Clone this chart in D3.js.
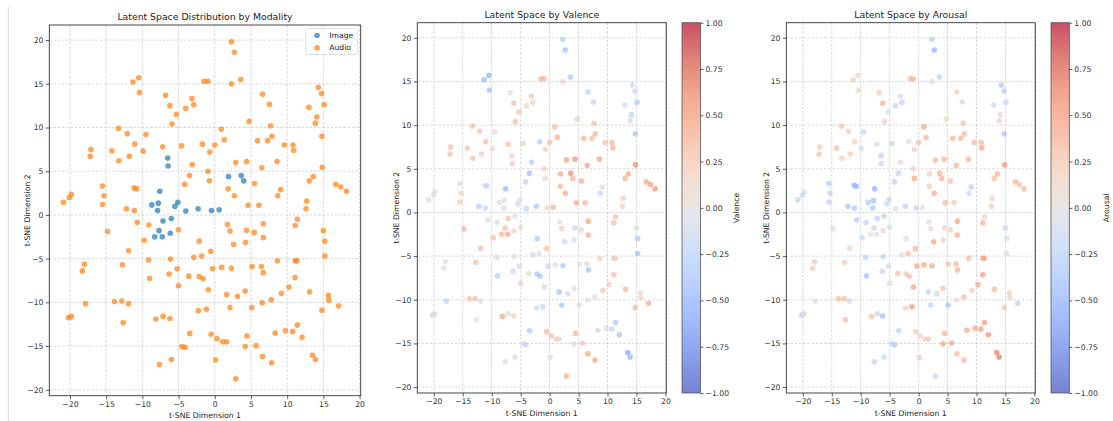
<!DOCTYPE html>
<html>
<head>
<meta charset="utf-8">
<script src="https://cdn.jsdelivr.net/npm/d3@7"></script>
<style>
  body { margin: 0; background: #fff; }
  text { font-family: "DejaVu Sans", sans-serif; }
</style>
</head>
<body>
<svg id="chart" width="1113" height="421"></svg>
<script>
// t-SNE coordinates of each sample
const tsneX = [
  2.3, 2.7, -11.3, -10.5, -10.4, -1.5, -0.95, 2.3, 3.6, -6.8,
  -6.2, -5.3, -5.9, -4.0, -3.15, -2.9, 0.9, 4.75, 6.6, 7.55,
  7.7, 7.9, 7.3, 1.3, 5.9, 13.0, 14.3, 14.75, 15.1, 14.1,
  13.9, 14.8, -13.3, -12.1, -9.5, 9.6, 10.8, 10.9, -17.2, -17.1,
  -14.2, -13.25, -11.8, -11.05, -9.9, -7.2, -4.6, -1.7, 0.0, -0.7,
  -3.1, 2.9, 4.4, 6.5, 8.6, 14.85, -6.5, -6.45, -0.95, -0.75,
  -3.5, -4.15, 1.9, 3.65, 4.0, 1.85, 2.7, 5.5, 9.1, 8.7,
  13.6, 13.05, 16.7, 17.4, 18.2, 12.7, 12.6, 11.4, 11.1, 15.0,
  15.2, 15.2, -20.9, -20.1, -19.8, -15.5, -15.3, -15.5, -14.8, -11.15,
  -10.8, -12.2, -11.1, -10.7, -7.6, -8.7, -7.8, -7.9, -5.5, -5.1,
  -4.0, -2.3, -0.45, 0.6, -7.15, -6.0, -7.7, -8.3, -7.25, -6.15,
  -5.0, -9.1, -9.75, -11.9, -12.75, -18.0, -18.3, -9.15, -6.1, -2.9,
  -1.8, -0.55, -2.15, 1.75, 2.1, 2.6, 4.4, 4.25, 5.45, 6.7,
  6.7, 4.6, 6.1, 8.65, 11.1, 11.35, 6.45, 5.15, 6.7, 2.3,
  0.95, -0.3, -5.2, -6.3, -9.0, -3.6, -2.15, -1.6, 11.1, -5.0,
  -0.9, 1.65, 3.15, 4.2, 10.25, 9.2, 13.1, 15.7, 15.75, 17.1,
  14.8, 7.8, 6.55, 5.1, 2.1, -1.15, -2.25, -17.85, -13.85, -12.85,
  -11.9, -20.2, -19.8, -12.65, -8.15, -7.15, -6.2, -3.45, -0.5, 0.3,
  1.1, 1.65, 4.45, 4.2, 5.7, 8.35, 9.75, 10.75, 11.4, 12.05,
  13.5, 13.9, 7.85, 6.6, 2.9, 0.1, -4.55, -4.1, -6.0, -7.65
];
const tsneY = [
  19.8, 18.6, 15.2, 15.7, 14.0, 15.3, 15.3, 15.0, 15.5, 13.7,
  12.5, 11.5, 10.4, 12.2, 13.3, 12.6, 9.8, 10.7, 13.8, 12.65,
  10.2, 9.0, 8.5, 8.6, 8.5, 12.3, 14.6, 13.9, 12.6, 11.2,
  10.5, 9.0, 9.9, 9.3, 9.2, 8.0, 8.0, 7.4, 6.7, 7.5,
  7.35, 6.2, 6.7, 8.1, 7.3, 7.8, 7.9, 8.1, 8.0, 7.2,
  5.75, 6.0, 6.1, 5.4, 6.1, 5.45, 6.5, 5.6, 5.0, 3.9,
  4.5, 3.5, 4.4, 4.5, 3.9, 3.0, 2.2, 3.6, 2.9, 2.2,
  4.4, 3.9, 3.5, 3.2, 2.7, 1.6, 0.7, -0.5, -1.2, -1.8,
  -3.0, -4.7, 1.45, 2.0, 2.35, 3.3, 2.2, 1.2, -1.9, 3.1,
  3.0, 0.7, 0.5, -0.85, 2.7, 1.15, 1.35, 0.5, 1.0, 1.45,
  0.45, 0.7, 0.5, 0.6, -0.7, -0.4, -1.8, -2.5, -2.5, -2.1,
  -1.7, -1.15, -2.9, -4.1, -5.7, -5.65, -6.4, -5.15, -5.05, -4.85,
  -4.7, -4.15, -3.0, -1.1, -1.85, -3.35, -1.75, -3.15, -2.0, -1.0,
  -2.6, 1.1, 1.1, -5.25, -5.25, -5.25, -5.9, -5.9, -6.6, -6.1,
  -6.0, -6.15, -6.15, -6.75, -7.25, -7.0, -7.05, -7.3, -7.15, -8.1,
  -8.55, -9.1, -9.3, -8.7, -8.25, -8.95, -8.8, -9.2, -9.75, -10.4,
  -10.9, -9.7, -10.05, -10.6, -10.6, -10.8, -10.95, -10.15, -9.9, -9.85,
  -10.15, -11.75, -11.6, -12.3, -11.9, -11.6, -11.85, -13.55, -13.65, -14.15,
  -14.5, -14.5, -13.85, -15.05, -14.95, -13.5, -13.25, -13.35, -12.6, -14.0,
  -16.05, -16.55, -16.9, -16.2, -18.75, -16.6, -15.05, -15.15, -16.55, -17.1
];

// 0 = Image, 1 = Audio
const modalityNames = ['Image', 'Audio'];
const modality = [
  1, 1, 1, 1, 1, 1, 1, 1, 1, 1,
  1, 1, 1, 1, 1, 1, 1, 1, 1, 1,
  1, 1, 1, 1, 1, 1, 1, 1, 1, 1,
  1, 1, 1, 1, 1, 1, 1, 1, 1, 1,
  1, 1, 1, 1, 1, 1, 1, 1, 1, 1,
  1, 1, 1, 1, 1, 1, 0, 0, 1, 1,
  1, 1, 0, 0, 0, 1, 1, 1, 1, 1,
  1, 1, 1, 1, 1, 1, 1, 1, 1, 1,
  1, 1, 1, 1, 1, 1, 1, 1, 1, 1,
  1, 1, 1, 1, 0, 0, 0, 0, 0, 0,
  0, 0, 0, 0, 0, 0, 0, 0, 0, 0,
  1, 1, 1, 1, 1, 1, 1, 1, 1, 1,
  1, 1, 1, 1, 1, 1, 1, 1, 1, 1,
  1, 1, 1, 1, 1, 1, 1, 1, 1, 1,
  1, 1, 1, 1, 1, 1, 1, 1, 1, 1,
  1, 1, 1, 1, 1, 1, 1, 1, 1, 1,
  1, 1, 1, 1, 1, 1, 1, 1, 1, 1,
  1, 1, 1, 1, 1, 1, 1, 1, 1, 1,
  1, 1, 1, 1, 1, 1, 1, 1, 1, 1,
  1, 1, 1, 1, 1, 1, 1, 1, 1, 1
];

const valence = [
  -0.3, -0.4, -0.45, -0.5, -0.4, 0.35, 0.35, 0.1, -0.3, 0.0,
  0.3, 0.25, 0.3, 0.1, 0.25, 0.15, 0.3, 0.15, -0.25, -0.25,
  0.3, 0.35, 0.3, 0.4, 0.35, -0.1, -0.15, -0.2, -0.3, -0.25,
  -0.1, -0.35, 0.3, 0.3, 0.0, 0.3, 0.35, 0.4, 0.3, 0.3,
  0.25, 0.3, 0.15, 0.3, 0.1, 0.3, 0.15, -0.3, 0.3, 0.2,
  -0.3, 0.5, 0.55, 0.45, 0.45, 0.6, 0.2, 0.25, 0.15, 0.1,
  -0.4, -0.25, 0.45, 0.55, 0.35, 0.35, 0.45, 0.4, -0.05, -0.2,
  0.4, 0.35, 0.45, 0.5, 0.55, 0.2, 0.2, 0.25, 0.3, -0.05,
  -0.3, -0.4, 0.0, -0.05, 0.0, -0.05, 0.15, 0.2, 0.35, -0.1,
  -0.2, -0.3, -0.2, 0.0, -0.45, 0.05, 0.0, -0.05, -0.1, 0.05,
  -0.25, -0.35, 0.1, 0.35, 0.3, 0.0, 0.3, 0.35, 0.45, 0.15,
  0.1, 0.0, 0.3, 0.3, 0.3, -0.05, 0.0, 0.0, 0.0, -0.15,
  -0.05, 0.3, -0.35, 0.0, 0.2, -0.15, -0.2, -0.05, 0.1, 0.45,
  0.35, 0.45, 0.35, 0.2, 0.2, 0.15, 0.0, 0.0, -0.4, -0.35,
  0.0, -0.2, -0.05, -0.2, -0.3, 0.05, -0.4, -0.35, 0.3, 0.15,
  -0.1, -0.4, -0.1, 0.0, 0.2, 0.25, 0.35, 0.1, 0.1, 0.4,
  0.35, 0.05, 0.0, -0.05, -0.35, -0.2, -0.15, -0.25, 0.25, 0.3,
  0.0, -0.2, 0.1, 0.0, 0.45, 0.05, 0.15, -0.35, 0.35, 0.3,
  0.15, 0.15, 0.35, 0.05, 0.25, -0.1, 0.0, -0.25, -0.35, -0.4,
  -0.55, -0.5, 0.45, 0.45, 0.4, 0.0, 0.1, -0.25, 0.1, 0.0
];

const arousal = [
  -0.3, -0.5, 0.2, 0.1, 0.15, 0.25, 0.4, 0.0, -0.25, 0.2,
  0.4, 0.0, 0.2, -0.2, 0.0, -0.25, 0.45, 0.15, 0.2, -0.15,
  0.3, 0.35, 0.35, 0.35, 0.35, -0.15, -0.35, -0.3, -0.2, -0.05,
  0.15, -0.35, 0.3, 0.2, -0.2, 0.3, 0.35, 0.45, 0.25, 0.2,
  0.3, 0.2, 0.2, 0.2, -0.1, -0.05, -0.2, 0.0, 0.3, 0.15,
  0.1, 0.35, 0.35, 0.35, 0.35, 0.55, -0.25, -0.2, 0.15, 0.45,
  -0.2, -0.25, 0.2, 0.35, 0.35, 0.2, 0.45, 0.3, -0.25, -0.2,
  0.4, 0.3, 0.35, 0.3, 0.35, 0.2, 0.2, 0.1, 0.35, -0.15,
  -0.05, -0.05, -0.25, -0.15, -0.1, -0.3, -0.25, -0.25, 0.05, -0.45,
  -0.5, -0.4, -0.35, -0.3, -0.5, -0.3, -0.4, -0.35, -0.2, -0.2,
  0.0, -0.25, -0.25, 0.05, -0.25, -0.25, -0.15, 0.05, 0.05, 0.1,
  -0.1, -0.25, -0.2, 0.15, 0.15, 0.25, 0.2, -0.25, -0.25, 0.05,
  0.3, 0.35, 0.0, 0.05, 0.1, 0.45, 0.1, 0.2, 0.2, 0.45,
  0.35, 0.35, 0.2, 0.3, 0.45, 0.45, 0.35, 0.3, 0.4, 0.45,
  0.45, 0.45, -0.1, -0.2, -0.4, 0.3, 0.25, 0.3, 0.5, 0.0,
  0.45, -0.2, -0.15, 0.25, 0.45, 0.2, 0.35, 0.15, 0.15, -0.25,
  0.25, 0.3, 0.05, -0.4, -0.25, 0.5, 0.2, 0.1, 0.3, 0.3,
  -0.1, -0.25, 0.15, 0.3, 0.3, -0.25, -0.4, -0.25, 0.2, 0.1,
  0.2, 0.25, 0.35, 0.45, 0.45, 0.45, 0.45, 0.5, 0.5, 0.55,
  0.65, 0.65, 0.35, 0.3, -0.2, 0.2, -0.25, -0.3, -0.2, -0.25
];

const axisTicks = [-20, -15, -10, -5, 0, 5, 10, 15, 20];
const colorbarTicks = [-1, -0.75, -0.5, -0.25, 0, 0.25, 0.5, 0.75, 1];

// matplotlib-like colours
const modalityColors = ['#1f77b4', '#ff7f0e'];
const cwStops = [-1, -0.8, -0.6, -0.4, -0.2, 0, 0.2, 0.4, 0.6, 0.8, 1];
const cwColors = ['#3b4cc0', '#5977e3', '#7b9ff9', '#9ebeff', '#c0d4f5', '#dddcdc',
                  '#f2cbb7', '#f7a889', '#ee8468', '#d44e41', '#b40426'];
const coolwarm = d3.scaleLinear().domain(cwStops).range(cwColors)
    .interpolate(d3.interpolateRgb).clamp(true);
const ALPHA = 0.7;

const svg = d3.select('#chart');
const points = tsneX.map((x, i) => ({ x, y: tsneY[i], m: modality[i], v: valence[i], a: arousal[i] }));

// matplotlib default 5% margins
const xExt = d3.extent(tsneX), yExt = d3.extent(tsneY);
const xPad = (xExt[1] - xExt[0]) * 0.05, yPad = (yExt[1] - yExt[0]) * 0.05;
const xDomain = [xExt[0] - xPad, xExt[1] + xPad];
const yDomain = [yExt[0] - yPad, yExt[1] + yPad];

// page artifact on the far left
svg.append('line').attr('x1', 8.3).attr('x2', 8.3).attr('y1', 7).attr('y2', 421)
    .attr('stroke', '#d4d4d4').attr('stroke-width', 1);

function styleAxis(g) {
    g.select('.domain').remove();
    g.selectAll('.tick line').attr('stroke', '#333').attr('stroke-width', 0.8);
    g.selectAll('.tick text').attr('font-size', 7.7).attr('fill', '#333')
        .attr('font-family', '"DejaVu Sans", sans-serif');
}

function drawPanel(p) {
    const g = svg.append('g');
    const x = d3.scaleLinear().domain(xDomain).range([p.x0, p.x1]);
    const y = d3.scaleLinear().domain(yDomain).range([p.y1, p.y0]);

    // dashed grid
    const grid = g.append('g').attr('stroke', '#c6c6c6').attr('stroke-width', 0.7)
        .attr('stroke-dasharray', '2.6,1.6');
    grid.selectAll('.gx').data(axisTicks).join('line')
        .attr('x1', d => x(d)).attr('x2', d => x(d)).attr('y1', p.y0).attr('y2', p.y1);
    grid.selectAll('.gy').data(axisTicks).join('line')
        .attr('y1', d => y(d)).attr('y2', d => y(d)).attr('x1', p.x0).attr('x2', p.x1);

    // points
    const data = p.order ? p.order(points) : points;
    g.append('g').selectAll('circle').data(data).join('circle')
        .attr('cx', d => x(d.x)).attr('cy', d => y(d.y)).attr('r', 2.8)
        .attr('fill', p.color).attr('fill-opacity', ALPHA);

    // frame
    g.append('rect').attr('x', p.x0).attr('y', p.y0)
        .attr('width', p.x1 - p.x0).attr('height', p.y1 - p.y0)
        .attr('fill', 'none').attr('stroke', '#333').attr('stroke-width', 0.9);

    // axes
    g.append('g').attr('transform', `translate(0,${p.y1})`)
        .call(d3.axisBottom(x).tickValues(axisTicks).tickSize(3.5).tickPadding(2).tickFormat(d3.format('d')))
        .call(styleAxis);
    g.append('g').attr('transform', `translate(${p.x0},0)`)
        .call(d3.axisLeft(y).tickValues(axisTicks).tickSize(3.5).tickPadding(2.3).tickFormat(d3.format('d')))
        .call(styleAxis);

    // texts
    const cx = (p.x0 + p.x1) / 2, cy = (p.y0 + p.y1) / 2;
    g.append('text').attr('x', cx).attr('y', p.y0 - 5).attr('text-anchor', 'middle')
        .attr('font-size', 9.3).attr('fill', '#222').text(p.title);
    g.append('text').attr('x', cx).attr('y', p.y1 + 22.6).attr('text-anchor', 'middle')
        .attr('font-size', 7.7).attr('fill', '#222').text('t-SNE Dimension 1');
    g.append('text').attr('transform', `translate(${p.ylabX},${cy}) rotate(-90)`)
        .attr('text-anchor', 'middle').attr('dy', '0.35em')
        .attr('font-size', 7.7).attr('fill', '#222').text('t-SNE Dimension 2');

    if (p.legend) drawLegend(g, p);
    if (p.cbar) drawColorbar(p);
}

function drawLegend(g, p) {
    const lg = g.append('g');
    lg.append('rect').attr('x', p.x1 - 55).attr('y', p.y0 + 3.5).attr('width', 51.5).attr('height', 26)
        .attr('rx', 2).attr('fill', '#fff').attr('fill-opacity', 0.8)
        .attr('stroke', '#d6d6d6').attr('stroke-width', 0.8);
    modalityNames.forEach((name, i) => {
        const yy = p.y0 + 10.5 + i * 12.2;
        lg.append('circle').attr('cx', p.x1 - 43.6).attr('cy', yy).attr('r', 2.8)
            .attr('fill', modalityColors[i]).attr('fill-opacity', ALPHA);
        lg.append('text').attr('x', p.x1 - 31.5).attr('y', yy).attr('dy', '0.35em')
            .attr('font-size', 7.7).attr('fill', '#222').text(name);
    });
}

let gradCount = 0;
function drawColorbar(p) {
    const c = p.cbar;
    const id = 'cw' + (gradCount++);
    const grad = svg.append('defs').append('linearGradient').attr('id', id)
        .attr('x1', 0).attr('y1', 1).attr('x2', 0).attr('y2', 0);
    d3.range(0, 1.0001, 0.05).forEach(t => {
        grad.append('stop').attr('offset', t).attr('stop-color', coolwarm(-1 + 2 * t));
    });
    const cs = d3.scaleLinear().domain([-1, 1]).range([p.y1, p.y0]);
    svg.append('rect').attr('x', c.x0).attr('y', p.y0).attr('width', c.x1 - c.x0).attr('height', p.y1 - p.y0)
        .attr('fill', `url(#${id})`).attr('fill-opacity', ALPHA);
    svg.append('rect').attr('x', c.x0).attr('y', p.y0).attr('width', c.x1 - c.x0).attr('height', p.y1 - p.y0)
        .attr('fill', 'none').attr('stroke', '#555').attr('stroke-width', 0.8);
    svg.append('g').attr('transform', `translate(${c.x1},0)`)
        .call(d3.axisRight(cs).tickValues(colorbarTicks).tickSize(3).tickPadding(2).tickFormat(d3.format('.2f')))
        .call(styleAxis);
    svg.append('text').attr('transform', `translate(${c.labelX},${(p.y0 + p.y1) / 2}) rotate(-90)`)
        .attr('text-anchor', 'middle').attr('dy', '0.35em')
        .attr('font-size', 7.7).attr('fill', '#222').text(c.label);
}

drawPanel({
    x0: 49.3, x1: 360.7, y0: 25, y1: 395.7, ylabX: 27.3,
    title: 'Latent Space Distribution by Modality',
    color: d => modalityColors[d.m],
    order: pts => pts.filter(d => d.m === 0).concat(pts.filter(d => d.m === 1)),
    legend: true
});
drawPanel({
    x0: 417.3, x1: 666.3, y0: 22.7, y1: 393, ylabX: 396.7,
    title: 'Latent Space by Valence',
    color: d => coolwarm(d.v),
    cbar: { x0: 682, x1: 700.5, label: 'Valence', labelX: 736.7 }
});
drawPanel({
    x0: 786.3, x1: 1035.3, y0: 22.7, y1: 393, ylabX: 766.7,
    title: 'Latent Space by Arousal',
    color: d => coolwarm(d.a),
    cbar: { x0: 1051, x1: 1069.3, label: 'Arousal', labelX: 1106.7 }
});
</script>
</body>
</html>
